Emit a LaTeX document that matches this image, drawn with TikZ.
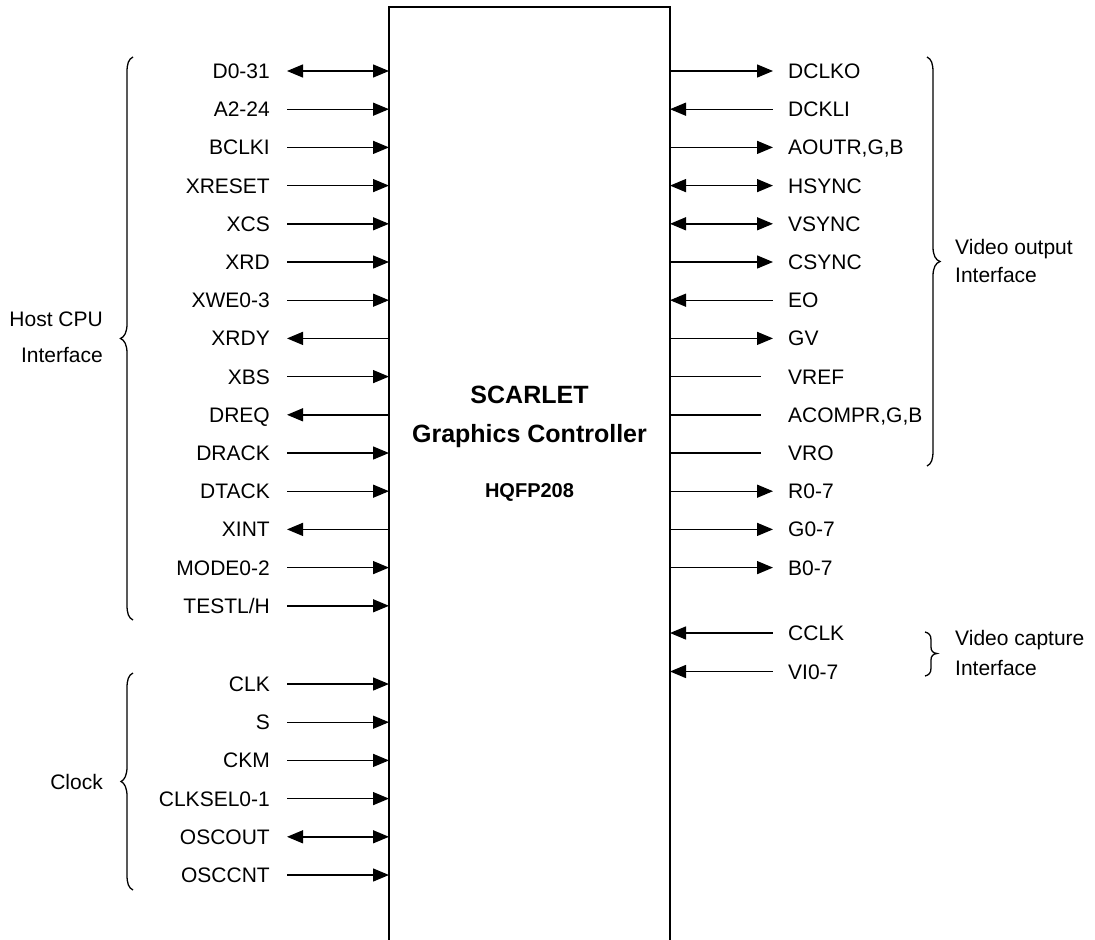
\documentclass[tikz,border=0pt]{standalone}
\usepackage{fontspec}
\setmainfont{Liberation Sans}
\usetikzlibrary{arrows.meta}
\tikzset{
  pinlbl/.style={inner sep=0pt, text height=15bp, text depth=0pt, font=\fontsize{21bp}{25bp}\selectfont},
  grplbl/.style={inner sep=0pt, font=\fontsize{21bp}{28bp}\selectfont},
  sig/.style={line width=1.4bp},
  tipend/.style={sig, -{Triangle[length=16bp,width=13bp]}},
  tipstart/.style={sig, {Triangle[length=16bp,width=13bp]}-},
  tipboth/.style={sig, {Triangle[length=16bp,width=13bp]}-{Triangle[length=16bp,width=13bp]}},
  tipnone/.style={sig},
  boxline/.style={line width=1.7bp},
  bracel/.style={line width=1.3bp},
}
\newcommand\lpin[4]{%
  \coordinate (lo#1) at (287,#2);
  \coordinate (lb#1) at (389,#2);
  \node[pinlbl,anchor=east] (ll#1) at (270,#2) {#3};
  \draw[#4] (lo#1) -- (lb#1);}
\newcommand\rpin[5]{%
  \coordinate (rb#1) at (670,#2);
  \coordinate (ro#1) at (#5,#2);
  \node[pinlbl,anchor=west] (rl#1) at (788,#2) {#3};
  \draw[#4] (rb#1) -- (ro#1);}
\begin{document}
\begin{tikzpicture}[x=1bp,y=-1bp]
\useasboundingbox (0,0) rectangle (1095,940);
% chip outline
\coordinate (chipbl) at (389,940);
\coordinate (chiptl) at (389,7);
\coordinate (chiptr) at (670,7);
\coordinate (chipbr) at (670,940);
\draw[boxline] (chipbl) -- (chiptl) -- (chiptr) -- (chipbr);
\node[font=\fontsize{25bp}{30bp}\selectfont\bfseries, anchor=base] (t1) at (529.5,403) {SCARLET};
\node[font=\fontsize{25bp}{30bp}\selectfont\bfseries, anchor=base] (t2) at (529.5,442) {Graphics Controller};
\node[font=\fontsize{20bp}{24bp}\selectfont\bfseries, anchor=base] (t3) at (529.5,497) {HQFP208};
% left pins
\lpin{0}{71}{D0-31}{tipboth}
\lpin{1}{109.2}{A2-24}{tipend}
\lpin{2}{147.4}{BCLKI}{tipend}
\lpin{3}{185.6}{XRESET}{tipend}
\lpin{4}{223.8}{XCS}{tipend}
\lpin{5}{262}{XRD}{tipend}
\lpin{6}{300.2}{XWE0-3}{tipend}
\lpin{7}{338.4}{XRDY}{tipstart}
\lpin{8}{376.6}{XBS}{tipend}
\lpin{9}{414.8}{DREQ}{tipstart}
\lpin{10}{453}{DRACK}{tipend}
\lpin{11}{491.2}{DTACK}{tipend}
\lpin{12}{529.4}{XINT}{tipstart}
\lpin{13}{567.6}{MODE0-2}{tipend}
\lpin{14}{605.8}{TESTL/H}{tipend}
\lpin{15}{684}{CLK}{tipend}
\lpin{16}{722.2}{S}{tipend}
\lpin{17}{760.4}{CKM}{tipend}
\lpin{18}{798.6}{CLKSEL0-1}{tipend}
\lpin{19}{836.8}{OSCOUT}{tipboth}
\lpin{20}{875}{OSCCNT}{tipend}
% right pins
\rpin{0}{71}{DCLKO}{tipend}{773}
\rpin{1}{109.2}{DCKLI}{tipstart}{773}
\rpin{2}{147.4}{AOUTR,G,B}{tipend}{773}
\rpin{3}{185.6}{HSYNC}{tipboth}{773}
\rpin{4}{223.8}{VSYNC}{tipboth}{773}
\rpin{5}{262}{CSYNC}{tipend}{773}
\rpin{6}{300.2}{EO}{tipstart}{773}
\rpin{7}{338.4}{GV}{tipend}{773}
\rpin{8}{376.6}{VREF}{tipnone}{761}
\rpin{9}{414.8}{ACOMPR,G,B}{tipnone}{761}
\rpin{10}{453}{VRO}{tipnone}{761}
\rpin{11}{491.2}{R0-7}{tipend}{773}
\rpin{12}{529.4}{G0-7}{tipend}{773}
\rpin{13}{567.6}{B0-7}{tipend}{773}
\rpin{14}{633}{CCLK}{tipstart}{773}
\rpin{15}{671.5}{VI0-7}{tipstart}{773}
% braces
\draw[bracel] (133,57) .. controls (128.5,59) and (127,64) .. (127,72) -- (127,324)
  .. controls (127,332) and (124.5,337) .. (120.5,338.5)
  .. controls (124.5,340) and (127,345) .. (127,353) -- (127,605)
  .. controls (127,613) and (128.5,618) .. (133,620);
\draw[bracel] (133,673) .. controls (128.5,675) and (127,680) .. (127,688) -- (127,767)
  .. controls (127,775) and (124.5,780) .. (121,781.5)
  .. controls (124.5,783) and (127,788) .. (127,796) -- (127,875)
  .. controls (127,883) and (128.5,888) .. (133,890);
\draw[bracel] (927,57) .. controls (931.5,59) and (933,64) .. (933,72) -- (933,247)
  .. controls (933,255) and (935.5,260) .. (940,261.5)
  .. controls (935.5,263) and (933,268) .. (933,276) -- (933,451)
  .. controls (933,459) and (931.5,464) .. (927,466);
\draw[bracel] (925,632) .. controls (929,633) and (931,635) .. (931,640) -- (931,647)
  .. controls (931,651) and (933,653) .. (937,653.5)
  .. controls (933,654) and (931,656) .. (931,660) -- (931,668)
  .. controls (931,673) and (929,675) .. (925,676);
% group labels
\node[grplbl, anchor=east, align=right, font=\fontsize{21bp}{36bp}\selectfont] (ghost) at (103,337) {Host CPU\\Interface};
\node[grplbl, anchor=east] (gclk) at (103,782) {Clock};
\node[grplbl, anchor=west, align=left] (gvout) at (955,261) {Video output\\Interface};
\node[grplbl, anchor=west, align=left, font=\fontsize{21bp}{30bp}\selectfont] (gvcap) at (955,653) {Video capture\\Interface};
\end{tikzpicture}
\end{document}
